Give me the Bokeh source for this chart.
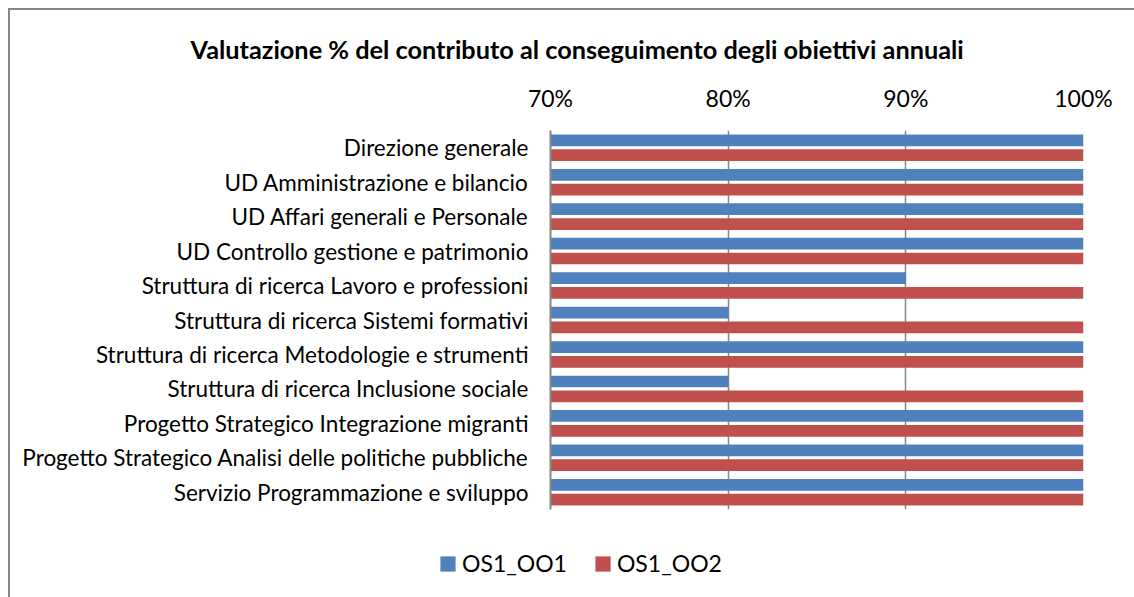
from bokeh.plotting import figure
from bokeh.layouts import column
from bokeh.models import (ColumnDataSource, FactorRange, Range1d, Title, Legend,
                          LegendItem, NumeralTickFormatter, FixedTicker)
from bokeh.transform import dodge
from bokeh.embed import file_html
from bokeh.resources import INLINE

categories = [
    "Direzione generale",
    "UD Amministrazione e bilancio",
    "UD Affari generali e Personale",
    "UD Controllo gestione e patrimonio",
    "Struttura di ricerca Lavoro e professioni",
    "Struttura di ricerca Sistemi formativi",
    "Struttura di ricerca Metodologie e strumenti",
    "Struttura di ricerca Inclusione sociale",
    "Progetto Strategico Integrazione migranti",
    "Progetto Strategico Analisi delle politiche pubbliche",
    "Servizio Programmazione e sviluppo",
]
os1_oo1 = [1.00, 1.00, 1.00, 1.00, 0.90, 0.80, 1.00, 0.80, 1.00, 1.00, 1.00]
os1_oo2 = [1.00, 1.00, 1.00, 1.00, 1.00, 1.00, 1.00, 1.00, 1.00, 1.00, 1.00]
series_names = ["OS1_OO1", "OS1_OO2"]
x_ticks = [0.7, 0.8, 0.9, 1.0]
title_text = "Valutazione % del contributo al conseguimento degli obiettivi annuali"

FONT = "Lato"
BLUE = "#4F81BD"
RED = "#C0504D"
GRAY = "#868686"

source = ColumnDataSource(dict(cat=categories, a=os1_oo1, b=os1_oo2))

p = figure(
    width=1124, height=502,
    y_range=FactorRange(factors=list(reversed(categories)), range_padding=0),
    x_range=Range1d(0.7, 1.0),
    x_axis_location="above",
    output_backend="svg", toolbar_location=None,
    min_border_left=540, min_border_right=51, min_border_top=120, min_border_bottom=3,
)
p.frame_align = False
p.outline_line_color = None
p.background_fill_color = "white"
p.border_fill_color = "white"

r1 = p.hbar(y=dodge("cat", 0.215, range=p.y_range), left=0.7, right="a", height=0.34,
            source=source, color=BLUE, line_color=None)
r2 = p.hbar(y=dodge("cat", -0.215, range=p.y_range), left=0.7, right="b", height=0.34,
            source=source, color=RED, line_color=None)

# x axis (top)
p.xaxis.ticker = FixedTicker(ticks=x_ticks)
p.xaxis.formatter = NumeralTickFormatter(format="0%")
p.xaxis.axis_line_color = None
p.xaxis.major_tick_line_color = None
p.xaxis.minor_tick_line_color = None
p.xaxis.major_label_standoff = 13
p.xaxis.major_label_text_font = FONT
p.xaxis.major_label_text_font_size = "23px"
p.xaxis.major_label_text_color = "black"

# y axis
p.yaxis.axis_line_color = GRAY
p.yaxis.axis_line_width = 2
p.yaxis.major_tick_line_color = None
p.yaxis.minor_tick_line_color = None
p.yaxis.major_label_standoff = 16
p.yaxis.major_label_text_font = FONT
p.yaxis.major_label_text_font_size = "22.5px"
p.yaxis.major_label_text_color = "black"

p.xgrid.ticker = FixedTicker(ticks=x_ticks)
p.xgrid.grid_line_color = GRAY
p.xgrid.grid_line_width = 1.5
p.ygrid.grid_line_color = None

t = Title(text=title_text, align="left", offset=-360, standoff=33,
          text_font=FONT, text_font_style="bold", text_font_size="25.3px",
          text_color="black")
p.add_layout(t, "above")

# legend strip below the chart (legend swatches only; the swatch renderers lie outside the view)
lg = figure(width=1124, height=85, x_range=Range1d(0, 1), y_range=Range1d(0, 1),
            x_axis_type=None, y_axis_type=None, output_backend="svg",
            toolbar_location=None, min_border=0)
lg.frame_align = False
lg.outline_line_color = None
lg.grid.grid_line_color = None
lg.background_fill_color = "white"
lg.border_fill_color = "white"
swatch = ColumnDataSource(dict(y=[-5], l=[0], r=[1]))
d1 = lg.hbar(y="y", left="l", right="r", height=0.1, source=swatch,
             fill_color=BLUE, line_color=None)
d2 = lg.hbar(y="y", left="l", right="r", height=0.1, source=swatch,
             fill_color=RED, line_color=None)

legend = Legend(items=[LegendItem(label=series_names[0], renderers=[d1]),
                       LegendItem(label=series_names[1], renderers=[d2])],
                orientation="horizontal", location=(428, 20),
                glyph_width=19, glyph_height=19, label_standoff=5, spacing=26,
                padding=0, margin=0, border_line_color=None,
                background_fill_alpha=0,
                label_text_font=FONT, label_text_font_size="23px",
                label_text_color="black")
lg.add_layout(legend, "center")

layout = column(p, lg, spacing=0,
                styles={"border-left": "2px solid #868686", "border-top": "2px solid #868686",
                        "margin-left": "8px", "margin-top": "8px"})

open("out.html", "w").write(file_html(layout, INLINE))
